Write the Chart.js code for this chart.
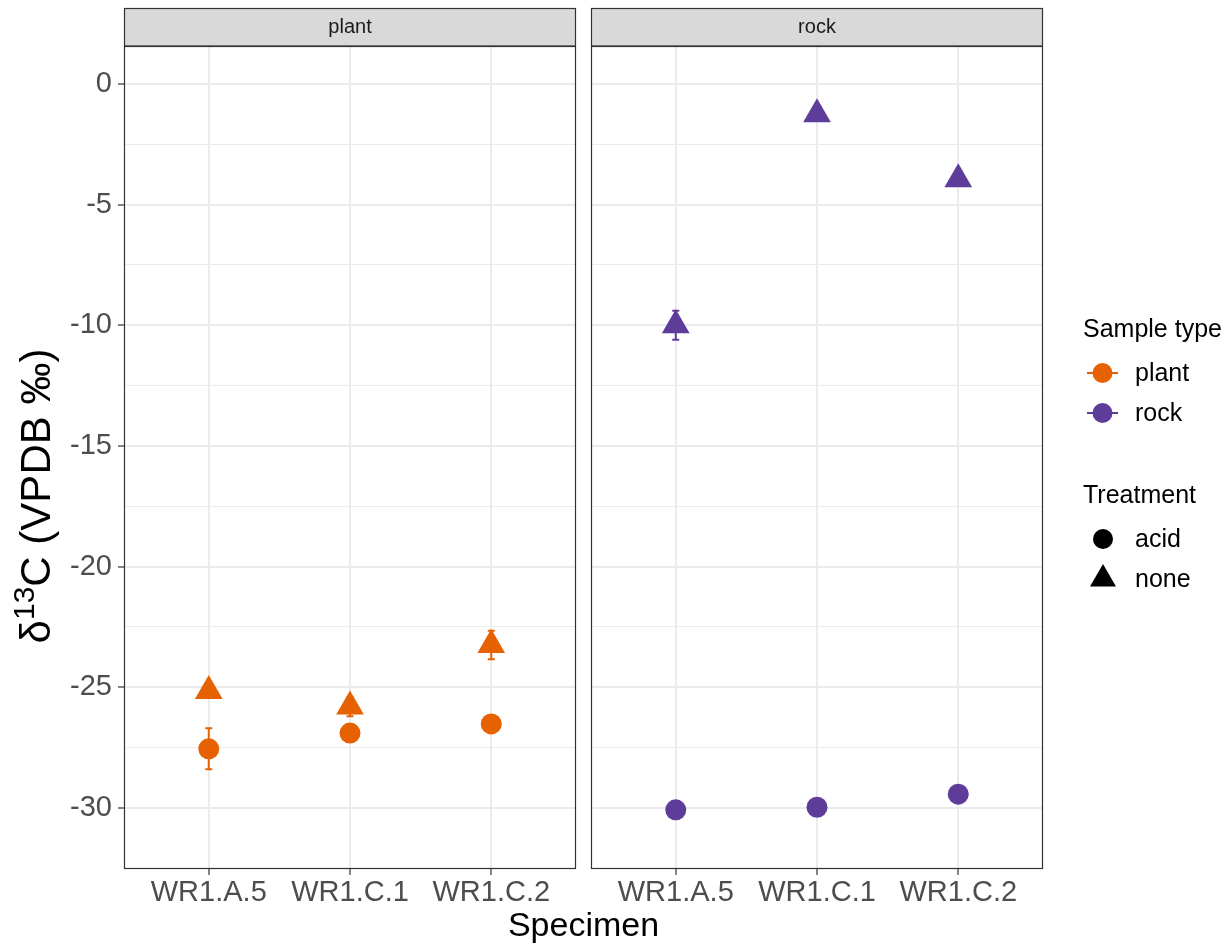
<!DOCTYPE html>
<html>
<head>
<meta charset="utf-8">
<script src="https://cdn.jsdelivr.net/npm/chart.js@4"></script>
<style>
  body { margin: 0; background: #fff; }
  canvas { position: absolute; left: 0; top: 0; }
</style>
</head>
<body>
<canvas id="chPlant" width="1232" height="945"></canvas>
<canvas id="chRock" width="1232" height="945"></canvas>
<script>
/* d13C by specimen, faceted plant / rock */
const specimens = ['WR1.A.5', 'WR1.C.1', 'WR1.C.2'];
const plantAcid = [-27.55, -26.9, -26.52];
const plantAcidErr = [0.85, 0, 0];
const plantNone = [-25.15, -25.8, -23.25];
const plantNoneErr = [0, 0.4, 0.59];
const rockAcid = [-30.08, -29.97, -29.43];
const rockAcidErr = [0, 0, 0];
const rockNone = [-10.0, -1.26, -3.95];
const rockNoneErr = [0.6, 0, 0];
const yTicks = [0, -5, -10, -15, -20, -25, -30];
const yMinorTicks = [-2.5, -7.5, -12.5, -17.5, -22.5, -27.5];

const orange = '#E66101';
const purple = '#5E3C99';
const FONT = '"Liberation Sans", Arial, sans-serif';

function pts(vals, errs) {
    return vals.map(function(v, i) { return {x: i + 1, y: v, err: errs[i]}; });
}

const allTicks = yTicks.concat(yMinorTicks).sort(function(a, b) { return a - b; });
function isMajor(v) { return yTicks.indexOf(v) >= 0; }

// error bars under the points
const errorBars = {
    id: 'errorBars',
    beforeDatasetsDraw(chart) {
        const ctx = chart.ctx;
        const xs = chart.scales.x, ys = chart.scales.y;
        chart.data.datasets.forEach(function(ds) {
            ctx.save();
            ctx.strokeStyle = ds.backgroundColor;
            ctx.lineWidth = 2;
            ds.data.forEach(function(p) {
                if (!p.err) return;
                const x = xs.getPixelForValue(p.x);
                const y1 = ys.getPixelForValue(p.y + p.err);
                const y2 = ys.getPixelForValue(p.y - p.err);
                ctx.beginPath();
                ctx.moveTo(x, y1); ctx.lineTo(x, y2);
                ctx.moveTo(x - 3.5, y1); ctx.lineTo(x + 3.5, y1);
                ctx.moveTo(x - 3.5, y2); ctx.lineTo(x + 3.5, y2);
                ctx.stroke();
            });
            ctx.restore();
        });
    }
};

// panel border + facet strip
const panelFrame = {
    id: 'panelFrame',
    afterDraw(chart, args, opts) {
        const ctx = chart.ctx;
        const a = chart.chartArea;
        ctx.save();
        ctx.fillStyle = '#D9D9D9';
        ctx.fillRect(a.left, 8, a.right - a.left, 38);
        ctx.strokeStyle = '#333333';
        ctx.lineWidth = 1.2;
        ctx.strokeRect(a.left + 0.5, 8.5, a.right - a.left - 1, 37.5);
        ctx.strokeRect(a.left + 0.5, a.top + 0.5, a.right - a.left - 1, a.bottom - a.top - 1);
        ctx.fillStyle = '#1A1A1A';
        ctx.font = '20px ' + FONT;
        ctx.textAlign = 'center';
        ctx.textBaseline = 'middle';
        ctx.fillText(opts.label, (a.left + a.right) / 2, 27);
        ctx.restore();
    }
};

const yTitle = {
    id: 'yTitle',
    afterDraw(chart) {
        const ctx = chart.ctx;
        ctx.save();
        ctx.translate(50, 496);
        ctx.rotate(-Math.PI / 2);
        ctx.fillStyle = '#000';
        ctx.textBaseline = 'alphabetic';
        ctx.textAlign = 'left';
        const big = '42px ' + FONT, small = '30px ' + FONT;
        ctx.font = big;
        const w1 = ctx.measureText('\u03B4').width;
        const w3 = ctx.measureText('C (VPDB \u2030)').width;
        ctx.font = small;
        const w2 = ctx.measureText('13').width;
        let x = -(w1 + w2 + w3) / 2;
        ctx.font = big;
        ctx.fillText('\u03B4', x, 0); x += w1;
        ctx.font = small;
        ctx.fillText('13', x, -16); x += w2;
        ctx.font = big;
        ctx.fillText('C (VPDB \u2030)', x, 0);
        ctx.restore();
    }
};

const legendAndTitle = {
    id: 'legendAndTitle',
    afterDraw(chart) {
        const ctx = chart.ctx;
        ctx.save();
        ctx.fillStyle = '#000';
        ctx.font = '34px ' + FONT;
        ctx.textAlign = 'center';
        ctx.textBaseline = 'alphabetic';
        ctx.fillText('Specimen', 583.5, 936);

        ctx.textAlign = 'left';
        ctx.font = '25px ' + FONT;
        ctx.fillText('Sample type', 1083, 337);
        ctx.fillText('Treatment', 1083, 503);

        ctx.textBaseline = 'middle';
        [[orange, 'plant', 373], [purple, 'rock', 413]].forEach(function(k) {
            ctx.strokeStyle = k[0];
            ctx.fillStyle = k[0];
            ctx.lineWidth = 2;
            ctx.beginPath();
            ctx.moveTo(1087, k[2]); ctx.lineTo(1118, k[2]);
            ctx.stroke();
            ctx.beginPath();
            ctx.arc(1102.5, k[2], 10, 0, Math.PI * 2);
            ctx.fill();
            ctx.fillStyle = '#000';
            ctx.fillText(k[1], 1135, k[2] + 1);
        });

        ctx.fillStyle = '#000';
        ctx.beginPath();
        ctx.arc(1103, 539, 10, 0, Math.PI * 2);
        ctx.fill();
        ctx.fillText('acid', 1135, 540);
        const r = 15, cx = 1103, cy = 579;
        ctx.beginPath();
        ctx.moveTo(cx, cy - r);
        ctx.lineTo(cx + r * Math.sin(Math.PI / 3), cy + r / 2);
        ctx.lineTo(cx - r * Math.sin(Math.PI / 3), cy + r / 2);
        ctx.closePath();
        ctx.fill();
        ctx.fillText('none', 1135, 580);
        ctx.restore();
    }
};

function makeOptions(label, showY, leftW, rightPad) {
    return {
        responsive: false,
        animation: false,
        events: [],
        layout: {padding: {top: 46, right: rightPad, bottom: 0, left: 0}},
        plugins: {
            legend: {display: false},
            tooltip: {enabled: false},
            panelFrame: {label: label}
        },
        scales: {
            x: {
                type: 'linear',
                min: 0.4,
                max: 3.6,
                afterBuildTicks: function(s) { s.ticks = specimens.map(function(c, i) { return {value: i + 1}; }); },
                afterFit: function(s) { s.height = 76; },
                border: {display: false},
                grid: {color: '#EBEBEB', lineWidth: 2, tickColor: '#333333', tickWidth: 1.2, tickLength: 6},
                ticks: {
                    autoSkip: false,
                    maxRotation: 0,
                    padding: 1,
                    color: '#4D4D4D',
                    font: {family: FONT, size: 29},
                    callback: function(v) { return specimens[v - 1]; }
                }
            },
            y: {
                min: -32.53,
                max: 1.57,
                afterBuildTicks: function(s) { s.ticks = allTicks.map(function(v) { return {value: v}; }); },
                afterFit: function(s) { s.width = leftW; },
                border: {display: false},
                grid: {
                    color: '#EBEBEB',
                    lineWidth: function(c) { return isMajor(c.tick.value) ? 2 : 1; },
                    tickColor: function(c) { return (showY && isMajor(c.tick.value)) ? '#333333' : 'rgba(0,0,0,0)'; },
                    tickWidth: 1.2,
                    tickLength: 6,
                    drawTicks: true
                },
                ticks: {
                    display: showY,
                    autoSkip: false,
                    padding: 6,
                    color: '#4D4D4D',
                    font: {family: FONT, size: 29},
                    callback: function(v) { return isMajor(v) ? String(v) : ''; }
                }
            }
        }
    };
}

new Chart(document.getElementById('chPlant'), {
    type: 'scatter',
    data: {
        datasets: [
            {label: 'plant acid', data: pts(plantAcid, plantAcidErr), backgroundColor: orange, pointStyle: 'circle', radius: 10.5, borderWidth: 0},
            {label: 'plant none', data: pts(plantNone, plantNoneErr), backgroundColor: orange, pointStyle: 'triangle', radius: 16, borderWidth: 0}
        ]
    },
    options: makeOptions('plant', true, 124, 1232 - 576),
    plugins: [errorBars, panelFrame, yTitle]
});

new Chart(document.getElementById('chRock'), {
    type: 'scatter',
    data: {
        datasets: [
            {label: 'rock acid', data: pts(rockAcid, rockAcidErr), backgroundColor: purple, pointStyle: 'circle', radius: 10.5, borderWidth: 0},
            {label: 'rock none', data: pts(rockNone, rockNoneErr), backgroundColor: purple, pointStyle: 'triangle', radius: 16, borderWidth: 0}
        ]
    },
    options: makeOptions('rock', false, 591, 1232 - 1043),
    plugins: [errorBars, panelFrame, legendAndTitle]
});
</script>
</body>
</html>
